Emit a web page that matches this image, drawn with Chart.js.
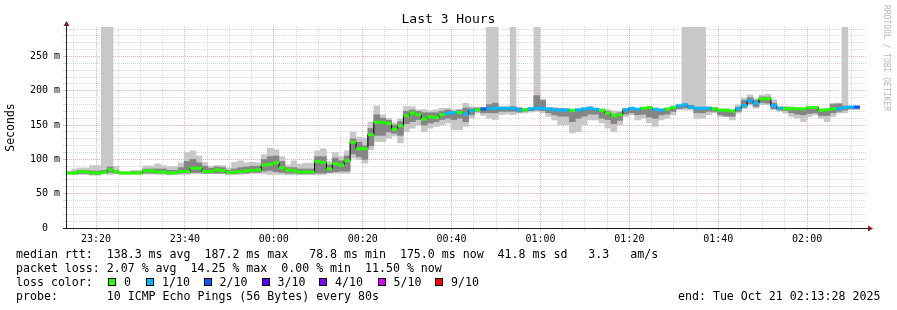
<!DOCTYPE html>
<html><head><meta charset="utf-8">
<script src="https://cdn.jsdelivr.net/npm/chart.js"></script>
<style>
html,body{margin:0;padding:0;background:#fff;}
#wrap{position:relative;width:897px;height:310px;overflow:hidden;font-family:'DejaVu Sans Mono',monospace;background:#fff;}
#c{position:absolute;left:0;top:0;}
.t{position:absolute;white-space:pre;font-size:11.6px;line-height:14px;color:#000;}
#title{position:absolute;left:0;top:11px;width:897px;text-align:center;font-size:13px;line-height:16px;color:#000;white-space:pre;}
#wm{position:absolute;left:881px;top:5px;writing-mode:vertical-rl;font-size:8px;line-height:10px;color:#b8b8b8;white-space:pre;}
.box{position:absolute;width:6px;height:6px;border:1px solid #000;}
</style></head>
<body>
<div id="wrap">
<canvas id="c" width="897" height="310"></canvas>
<div id="title">Last 3 Hours</div>
<div id="wm">RRDTOOL / TOBI OETIKER</div>
<div class="t" style="left:16px;top:246.5px">median rtt:  138.3 ms avg  187.2 ms max   78.8 ms min  175.0 ms now  41.8 ms sd   3.3   am/s</div>
<div class="t" style="left:16px;top:260.5px">packet loss: 2.07 % avg  14.25 % max  0.00 % min  11.50 % now</div>
<div class="t" style="left:16px;top:274.5px">loss color:</div>
<div id="lossLegend"></div>
<div class="t" style="left:16px;top:288.5px">probe:       10 ICMP Echo Pings (56 Bytes) every 80s</div>
<div class="t" style="left:678px;top:288.5px">end: Tue Oct 21 02:13:28 2025</div>
</div>
<script>
// ---- time frame ----
const START = '23:13:28';
const END = '02:13:28';
const FIRST_BIN_END = '23:14:30';
const STEP_S = 80;

// ---- tick labels ----
const xTickLabels = ['23:20','23:40','00:00','00:20','00:40','01:00','01:20','01:40','02:00'];
const yTickValues = [0, 50, 100, 150, 200, 250];
const yTickLabels = ['0  ', '50 m', '100 m', '150 m', '200 m', '250 m'];
const Y_MAX = 293;

// ---- loss legend ----
const lossLabels = ['0', '1/10', '2/10', '3/10', '4/10', '5/10', '9/10'];
const lossColors = ['#26ff00', '#00b8ff', '#0059ff', '#5e00ff', '#7e00ff', '#dd00ff', '#ff0000'];

// ---- series (ms), one value per 80 s step ----
const median = [80,80,82,82,80,80,81,85,82,80, 80,80,80,83.5,83.5,81.5,81.5,80,80.5,82.5,
  82.5,87,87,82.5,82.5,85,84,81,81.5,82, 83.5,84,85,92,93,95,88,84.5,83.5,81.5,
  81.5,81.5,97,95.5,86,93.5,92,98,125,115.5, 115.5,136,154,154,152,144,149,163.5,167.5,165,
  159,162,161,165,167,168.5,168.5,166,171,172.5, 173.5,174.5,174.5,174.5,174.5,174.5,172.5,172.5,173.5,174.5,
  174.5,173.5,172.5,172,172,171.5,172,173.5,174.5,173, 171.5,167.5,163.5,165,172,174.5,173,174.5,175.5,173,
  172,173.5,175.5,178,179.5,176.5,174.5,174.5,174.5,173.5, 171.5,171.5,170.5,174,178.5,186,182,188.5,188.5,178.5,
  174.5,174,174,174,173.5,175.5,175.5,171.5,172.5,174, 174,175.5,176.5,176.5];
const lossTenths = [0,0,0,0,0,0,0,0,0,0, 0,0,0,0,0,0,0,0,0,0, 0,0,0,0,0,0,0,0,0,0, 0,0,0,0,0,0,0,0,0,0,
  0,0,0,0,0,0,0,0,0,0, 0,0,0,0,0,0,0,0,0,0, 0,0,0,0,1,1,0,1,1,0, 2,1,1,1,1,1,1,0,1,1,
  1,1,1,1,1,0,1,1,1,1, 0,0,0,0,1,1,1,0,0,1, 1,0,0,1,1,1,1,1,1,0, 0,0,0,1,1,1,1,0,0,1,
  1,0,0,0,0,0,0,0,0,0, 1,1,1,2];
const smokeMin = [78.5,78,78,78,77,77,79,78,79,78.5, 78.5,78.5,78.5,78.5,78.5,78,78,77.5,77.5,78,
  78,79,79,79,79,79,79,77.5,78,78, 79,80,80,79,78,78,78,77.5,77.5,77.5,
  77.5,77.5,77.5,78,80,80,80,80,102,99.5, 94.5,114,126,126,131,134,124,140.5,145.5,150.5,
  140.5,145.5,148,150.5,153,143,143,148,160,167.5, 164,160,158,165,166,165,167.5,167.5,169,170,
  168,162.5,157.5,150.5,150.5,138.5,140.5,150.5,157.5,157.5, 153,145.5,140.5,150.5,162.5,165,157.5,160,153,148,
  157.5,160,165,172.5,172,172,160,160,165,167.5, 162.5,162.5,157.5,167.5,174,179.5,174.5,179.5,179.5,172.5,
  170,167.5,162.5,160,155,162.5,165,160,155,162.5, 167.5,168,172.5,172.5];
const smokeMax = [82.5,86,87.5,87.5,91,91,300,300,90,82.5, 82.5,84,84,90.5,90.5,93.5,91,89.5,89.5,95,
  110,112.5,105,95.5,90,91,91,87.5,96,98, 95,96,95,107,116.5,114,104,92,98,93,
  94.5,94.5,112.5,115.5,97,110,104,112.5,140,132, 131,154,178,165,160,153,159,177,177,172.5,
  172.5,171,172.5,174.5,174.5,172.5,172.5,182,177,176, 176,300,300,177,177,300,176,174.5,176,300,
  188,174.5,176,174.5,174.5,172.5,174.5,176,177,174.5, 173.5,172.5,171,170,174.5,176,174.5,176,176,174.5,
  173.5,174.5,178,180.5,300,300,300,300,177,176, 174,174,172.5,179.5,189,194,188.5,194,195,187,
  177,177,177,174.5,174.5,177,177,174,174,182, 182,300,177,177];
const coreLo = [79,79,79.5,79.5,78.5,78.5,80,81,80,79, 79,79,79,80,80,80,80,79,79,80,
  80,81,81,80,80,80,80,79,79,80, 80,81,81,83,84,82,81,80,80,79,
  79,79,80,80,81,82,83,83,108,104, 100,120,135,135,140,138,135,152,155,158,
  150,153,155,158,160,158,160,155,165,170, 168,168,168,170,170,170,169,170,171,172,
  171,168,165,163,163,155,160,163,166,166, 160,158,152,157,166,168,165,166,162,160,
  165,166,170,174,175,174,168,168,170,170, 165,163,163,170,176,181,177,183,182,174,
  172,171,168,166,165,167,168,164,164,168, 170,172,174,174];
const coreHi = [81,82,84,84,83,83,84,89,84,81, 81,82,82,86,86,86,86,84,84,88,
  97,100,95,90,87,89,88,84,86,88, 89,90,90,100,104,105,97,88,88,86,
  86,86,104,104,92,102,98,105,130,125, 120,145,165,160,157,150,155,170,172,170,
  168,168,168,170,172,170,172,175,174,175, 175,180,182,176,176,177,175,174,175,193,
  186,175,174,174,173,170,172,174,175,174, 172,170,166,168,174,175,174,175,175,173,
  173,174,176,179,181,179,176,176,176,175, 173,172,171,176,186,190,186,191,191,182,
  176,176,175,175,174,176,176,173,173,180, 181,178,177,177];

// ---- helpers ----
function sec(t){ const p = t.split(':').map(Number); return p[0]*3600 + p[1]*60 + (p[2]||0); }
const t0 = sec(START);
function rel(t){ let d = sec(t) - t0; if (d < 0) d += 86400; return d/60; }
const SPAN = rel(END);
const firstEnd = rel(FIRST_BIN_END);
const stepMin = STEP_S/60;
const binStart = k => firstEnd + (k-1)*stepMin;
const binEnd = k => firstEnd + k*stepMin;
const binMid = k => firstEnd + (k-0.5)*stepMin;

const majorX = xTickLabels.map(rel);
const isMajorX = v => majorX.some(m => Math.abs(m - v) < 1e-6);
const minorX = [];
for (let v = rel('23:15'); v <= SPAN; v += 5) minorX.push(v);

const GRID = 'rgba(150,150,150,0.36)';
const MGRID = 'rgba(230,90,90,0.48)';
const AXIS = '#1f1f1f';
const ARROW = '#7f1f1f';
const FONT = "'DejaVu Sans Mono', monospace";

// ---- loss legend boxes ----
const legendBoxX = [108, 146, 203.5, 261.5, 319, 377.5, 435];
const lg = document.getElementById('lossLegend');
lossLabels.forEach((lab, i) => {
  const b = document.createElement('div'); b.className = 'box';
  b.style.left = legendBoxX[i] + 'px'; b.style.top = '278px'; b.style.background = lossColors[i];
  lg.appendChild(b);
  const t = document.createElement('div'); t.className = 't';
  t.style.left = (legendBoxX[i] + 16) + 'px'; t.style.top = '274.5px'; t.textContent = lab;
  lg.appendChild(t);
});

// ---- datasets ----
const outer = median.map((_, k) => ({x: binMid(k), y: [smokeMin[k], smokeMax[k]]}));
const core = median.map((_, k) => ({x: binMid(k), y: [coreLo[k], coreHi[k]]}));
const medLine = median.map((m, k) => ({x: binMid(k), y: m}));
const levels = [...new Set(lossTenths)].sort();
const segSets = levels.map(L => {
  const pts = [];
  median.forEach((m, k) => {
    if (lossTenths[k] !== L) return;
    pts.push({x: binStart(k), y: m}, {x: binEnd(k), y: m}, {x: binEnd(k), y: null});
  });
  return {type: 'line', data: pts, borderColor: lossColors[L], borderWidth: 3, borderCapStyle: 'butt',
          pointRadius: 0, spanGaps: false, tension: 0, order: 1, clip: 0};
});

const frame = {
  id: 'rrdFrame',
  afterDraw(chart) {
    const {ctx, chartArea: a} = chart;
    const x0 = Math.round(a.left) - 0.5, yb = Math.round(a.bottom) + 0.5;
    ctx.save();
    ctx.strokeStyle = AXIS; ctx.lineWidth = 1;
    ctx.beginPath();
    ctx.moveTo(x0, yb); ctx.lineTo(x0, a.top - 2);
    ctx.moveTo(a.left - 4, yb); ctx.lineTo(a.right + 2, yb);
    ctx.stroke();
    ctx.fillStyle = ARROW;
    ctx.beginPath(); ctx.moveTo(x0, a.top - 6); ctx.lineTo(x0 - 3, a.top - 1); ctx.lineTo(x0 + 3, a.top - 1); ctx.closePath(); ctx.fill();
    ctx.beginPath(); ctx.moveTo(a.right + 6, yb); ctx.lineTo(a.right + 1, yb - 3); ctx.lineTo(a.right + 1, yb + 3); ctx.closePath(); ctx.fill();
    ctx.restore();
  }
};

new Chart(document.getElementById('c'), {
  type: 'bar',
  data: {
    datasets: [
      ...segSets,
      {type: 'line', data: medLine, stepped: 'middle', borderColor: '#000', borderWidth: 1, pointRadius: 0, order: 2, clip: 0},
      {type: 'bar', data: core, backgroundColor: '#858585', borderWidth: 0, order: 3, clip: 0},
      {type: 'bar', data: outer, backgroundColor: '#c8c8c8', borderWidth: 0, order: 4, clip: 0}
    ]
  },
  options: {
    responsive: false, animation: false, devicePixelRatio: 1, events: [],
    datasets: {bar: {grouped: false, categoryPercentage: 1, barPercentage: 1}},
    layout: {padding: {left: 0, top: 27, right: 30, bottom: 0}},
    plugins: {legend: {display: false}, tooltip: {enabled: false}, title: {display: false}},
    scales: {
      x: {
        type: 'linear', min: 0, max: SPAN, offset: false,
        afterFit: s => { s.height = 82; },
        afterBuildTicks: s => { s.ticks = minorX.map(v => ({value: v})); },
        grid: {offset: false, color: c => (c.tick && isMajorX(c.tick.value)) ? MGRID : GRID, lineWidth: 1, tickLength: 3, drawTicks: true},
        border: {display: false, dash: [1, 1]},
        ticks: {autoSkip: false, maxRotation: 0, minRotation: 0, padding: 2, color: '#000',
                font: {family: FONT, size: 10},
                callback: v => { const i = majorX.findIndex(m => Math.abs(m - v) < 1e-6); return i >= 0 ? xTickLabels[i] : ''; }}
      },
      y: {
        type: 'linear', min: 0, max: Y_MAX,
        afterFit: s => { s.width = 67; },
        afterBuildTicks: s => { const t = []; for (let v = 0; v <= Y_MAX; v += 10) t.push({value: v}); s.ticks = t; },
        grid: {color: c => (c.tick && c.tick.value % 50 === 0) ? MGRID : GRID, lineWidth: 1, tickLength: 4, drawTicks: true},
        border: {display: false, dash: [1, 1]},
        title: {display: true, text: 'Seconds', color: '#000', font: {family: FONT, size: 11.5}, padding: {top: 4, bottom: 0}},
        ticks: {autoSkip: false, padding: 3, color: '#000', font: {family: FONT, size: 10},
                callback: v => { const i = yTickValues.indexOf(v); return i >= 0 ? yTickLabels[i] : ''; }}
      }
    }
  },
  plugins: [frame]
});
</script>
</body></html>
